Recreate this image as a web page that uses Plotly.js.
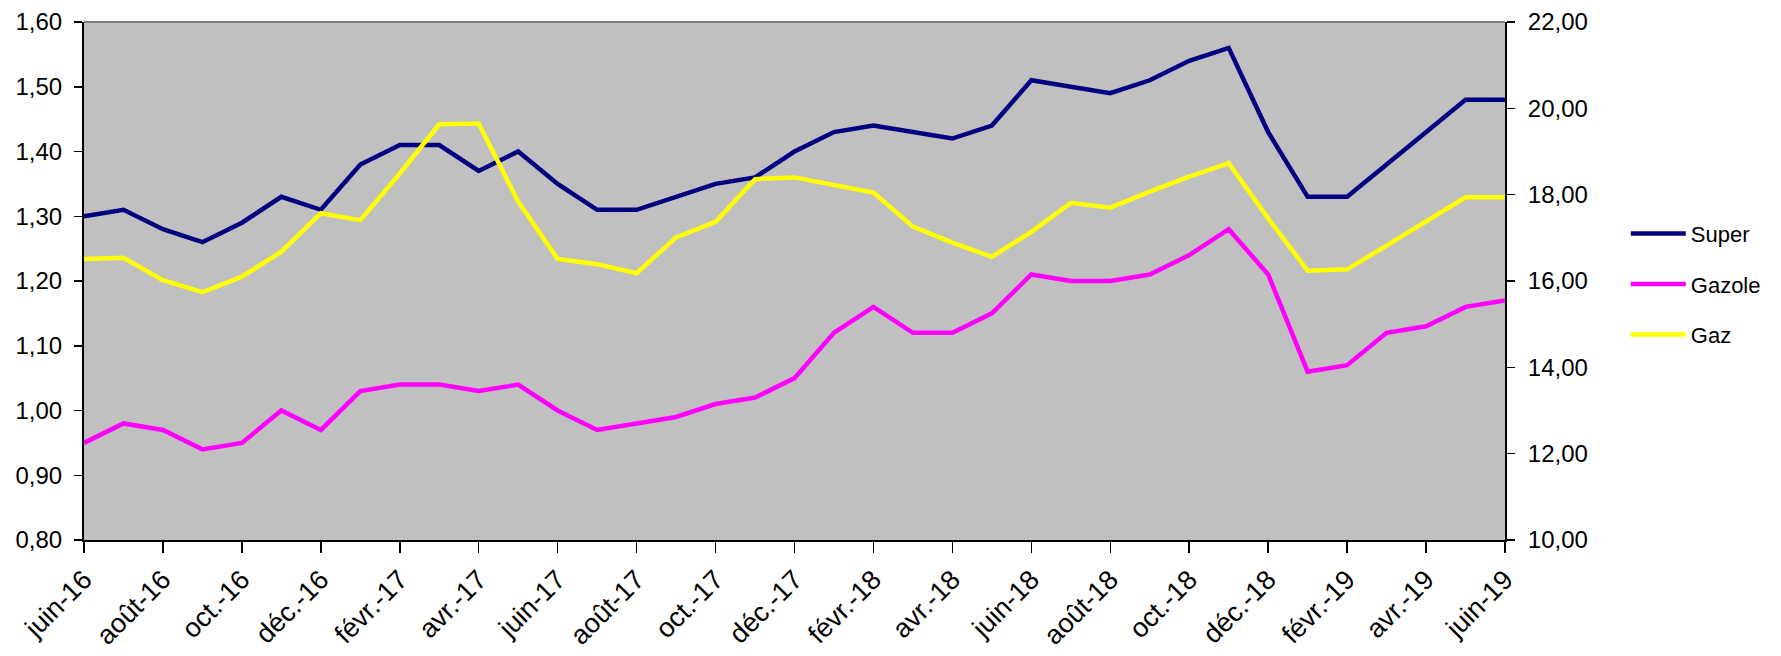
<!DOCTYPE html>
<html>
<head>
<meta charset="utf-8">
<script src="https://cdn.plot.ly/plotly-3.0.1.min.js"></script>
<style>html,body{margin:0;padding:0;background:#fff;}#chart{width:1781px;height:656px;}</style>
</head>
<body>
<div id="chart"></div>
<script>
const months = ["juin-16","juil.-16","août-16","sept.-16","oct.-16","nov.-16","déc.-16",
  "janv.-17","févr.-17","mars-17","avr.-17","mai-17","juin-17","juil.-17","août-17","sept.-17","oct.-17","nov.-17","déc.-17",
  "janv.-18","févr.-18","mars-18","avr.-18","mai-18","juin-18","juil.-18","août-18","sept.-18","oct.-18","nov.-18","déc.-18",
  "janv.-19","févr.-19","mars-19","avr.-19","mai-19","juin-19"];
const tickLabels = ["juin-16","août-16","oct.-16","déc.-16","févr.-17","avr.-17","juin-17","août-17","oct.-17","déc.-17",
  "févr.-18","avr.-18","juin-18","août-18","oct.-18","déc.-18","févr.-19","avr.-19","juin-19"];
const superVals = [1.30,1.31,1.28,1.26,1.29,1.33,1.31,1.38,1.41,1.41,1.37,1.40,1.35,1.31,1.31,1.33,1.35,1.36,1.40,
  1.43,1.44,1.43,1.42,1.44,1.51,1.50,1.49,1.51,1.54,1.56,1.43,1.33,1.33,1.38,1.43,1.48,1.48];
const gazoleVals = [0.95,0.98,0.97,0.94,0.95,1.00,0.97,1.03,1.04,1.04,1.03,1.04,1.00,0.97,0.98,0.99,1.01,1.02,1.05,
  1.12,1.16,1.12,1.12,1.15,1.21,1.20,1.20,1.21,1.24,1.28,1.21,1.06,1.07,1.12,1.13,1.16,1.17];
const gazVals = [16.51,16.54,16.02,15.74,16.10,16.68,17.57,17.41,18.49,19.63,19.65,17.84,16.51,16.39,16.18,17.01,17.37,18.36,18.40,
  18.22,18.05,17.26,16.89,16.56,17.14,17.81,17.70,18.07,18.42,18.73,17.45,16.24,16.27,16.82,17.37,17.94,17.94];

const FONT = "Liberation Sans, Arial, sans-serif";
const traces = [
  {x: months, y: superVals, name: "Super", type: "scatter", mode: "lines", yaxis: "y", legendgroup: "a",
   line: {color: "#000080", width: 4.5}},
  {x: months, y: gazoleVals, name: "Gazole", type: "scatter", mode: "lines", yaxis: "y", legendgroup: "b",
   line: {color: "#FF00FF", width: 4.5}},
  {x: months, y: gazVals, name: "Gaz", type: "scatter", mode: "lines", yaxis: "y2", legendgroup: "c",
   line: {color: "#FFFF00", width: 4.5}}
];
const layout = {
  width: 1781, height: 656,
  margin: {l: 84, r: 276, t: 22, b: 116},
  paper_bgcolor: "#ffffff",
  plot_bgcolor: "#C0C0C0",
  separators: ", ",
  font: {family: FONT, size: 22, color: "#000"},
  showlegend: true,
  legend: {x: 1.085, y: 0.632, xanchor: "left", yanchor: "top", traceorder: "grouped", tracegroupgap: 19,
    itemwidth: 55,
    font: {family: FONT, size: 22, color: "#000"}, bgcolor: "rgba(0,0,0,0)"},
  xaxis: {type: "category", range: [0, 36], tickmode: "array", tickvals: tickLabels, ticktext: tickLabels,
    tickangle: -45, ticks: "outside", ticklen: 11, tickwidth: 1.5, tickcolor: "#000",
    showline: true, linecolor: "#000", linewidth: 2, showgrid: false, zeroline: false,
    tickfont: {family: FONT, size: 27, color: "#000"}},
  yaxis: {range: [0.8, 1.6], dtick: 0.1, tick0: 0.8, tickformat: ".2f", ticks: "outside", ticklen: 8, tickwidth: 1.5,
    tickcolor: "#000", showline: true, linecolor: "#000", linewidth: 2, showgrid: false, zeroline: false,
    ticklabelstandoff: 7,
    tickfont: {family: FONT, size: 24, color: "#000"}},
  yaxis2: {range: [10, 22], dtick: 2, tick0: 10, tickformat: ".2f", overlaying: "y", side: "right",
    ticks: "outside", ticklen: 8, tickwidth: 1.5, tickcolor: "#000", showline: true, linecolor: "#000", linewidth: 2,
    ticklabelstandoff: 8,
    showgrid: false, zeroline: false, tickfont: {family: FONT, size: 24, color: "#000"}},
  shapes: [{type: "line", xref: "paper", yref: "paper", x0: 0, x1: 1, y0: 1, y1: 1,
    line: {color: "#808080", width: 2}}]
};
Plotly.newPlot("chart", traces, layout, {displayModeBar: false, staticPlot: true});
</script>
</body>
</html>
